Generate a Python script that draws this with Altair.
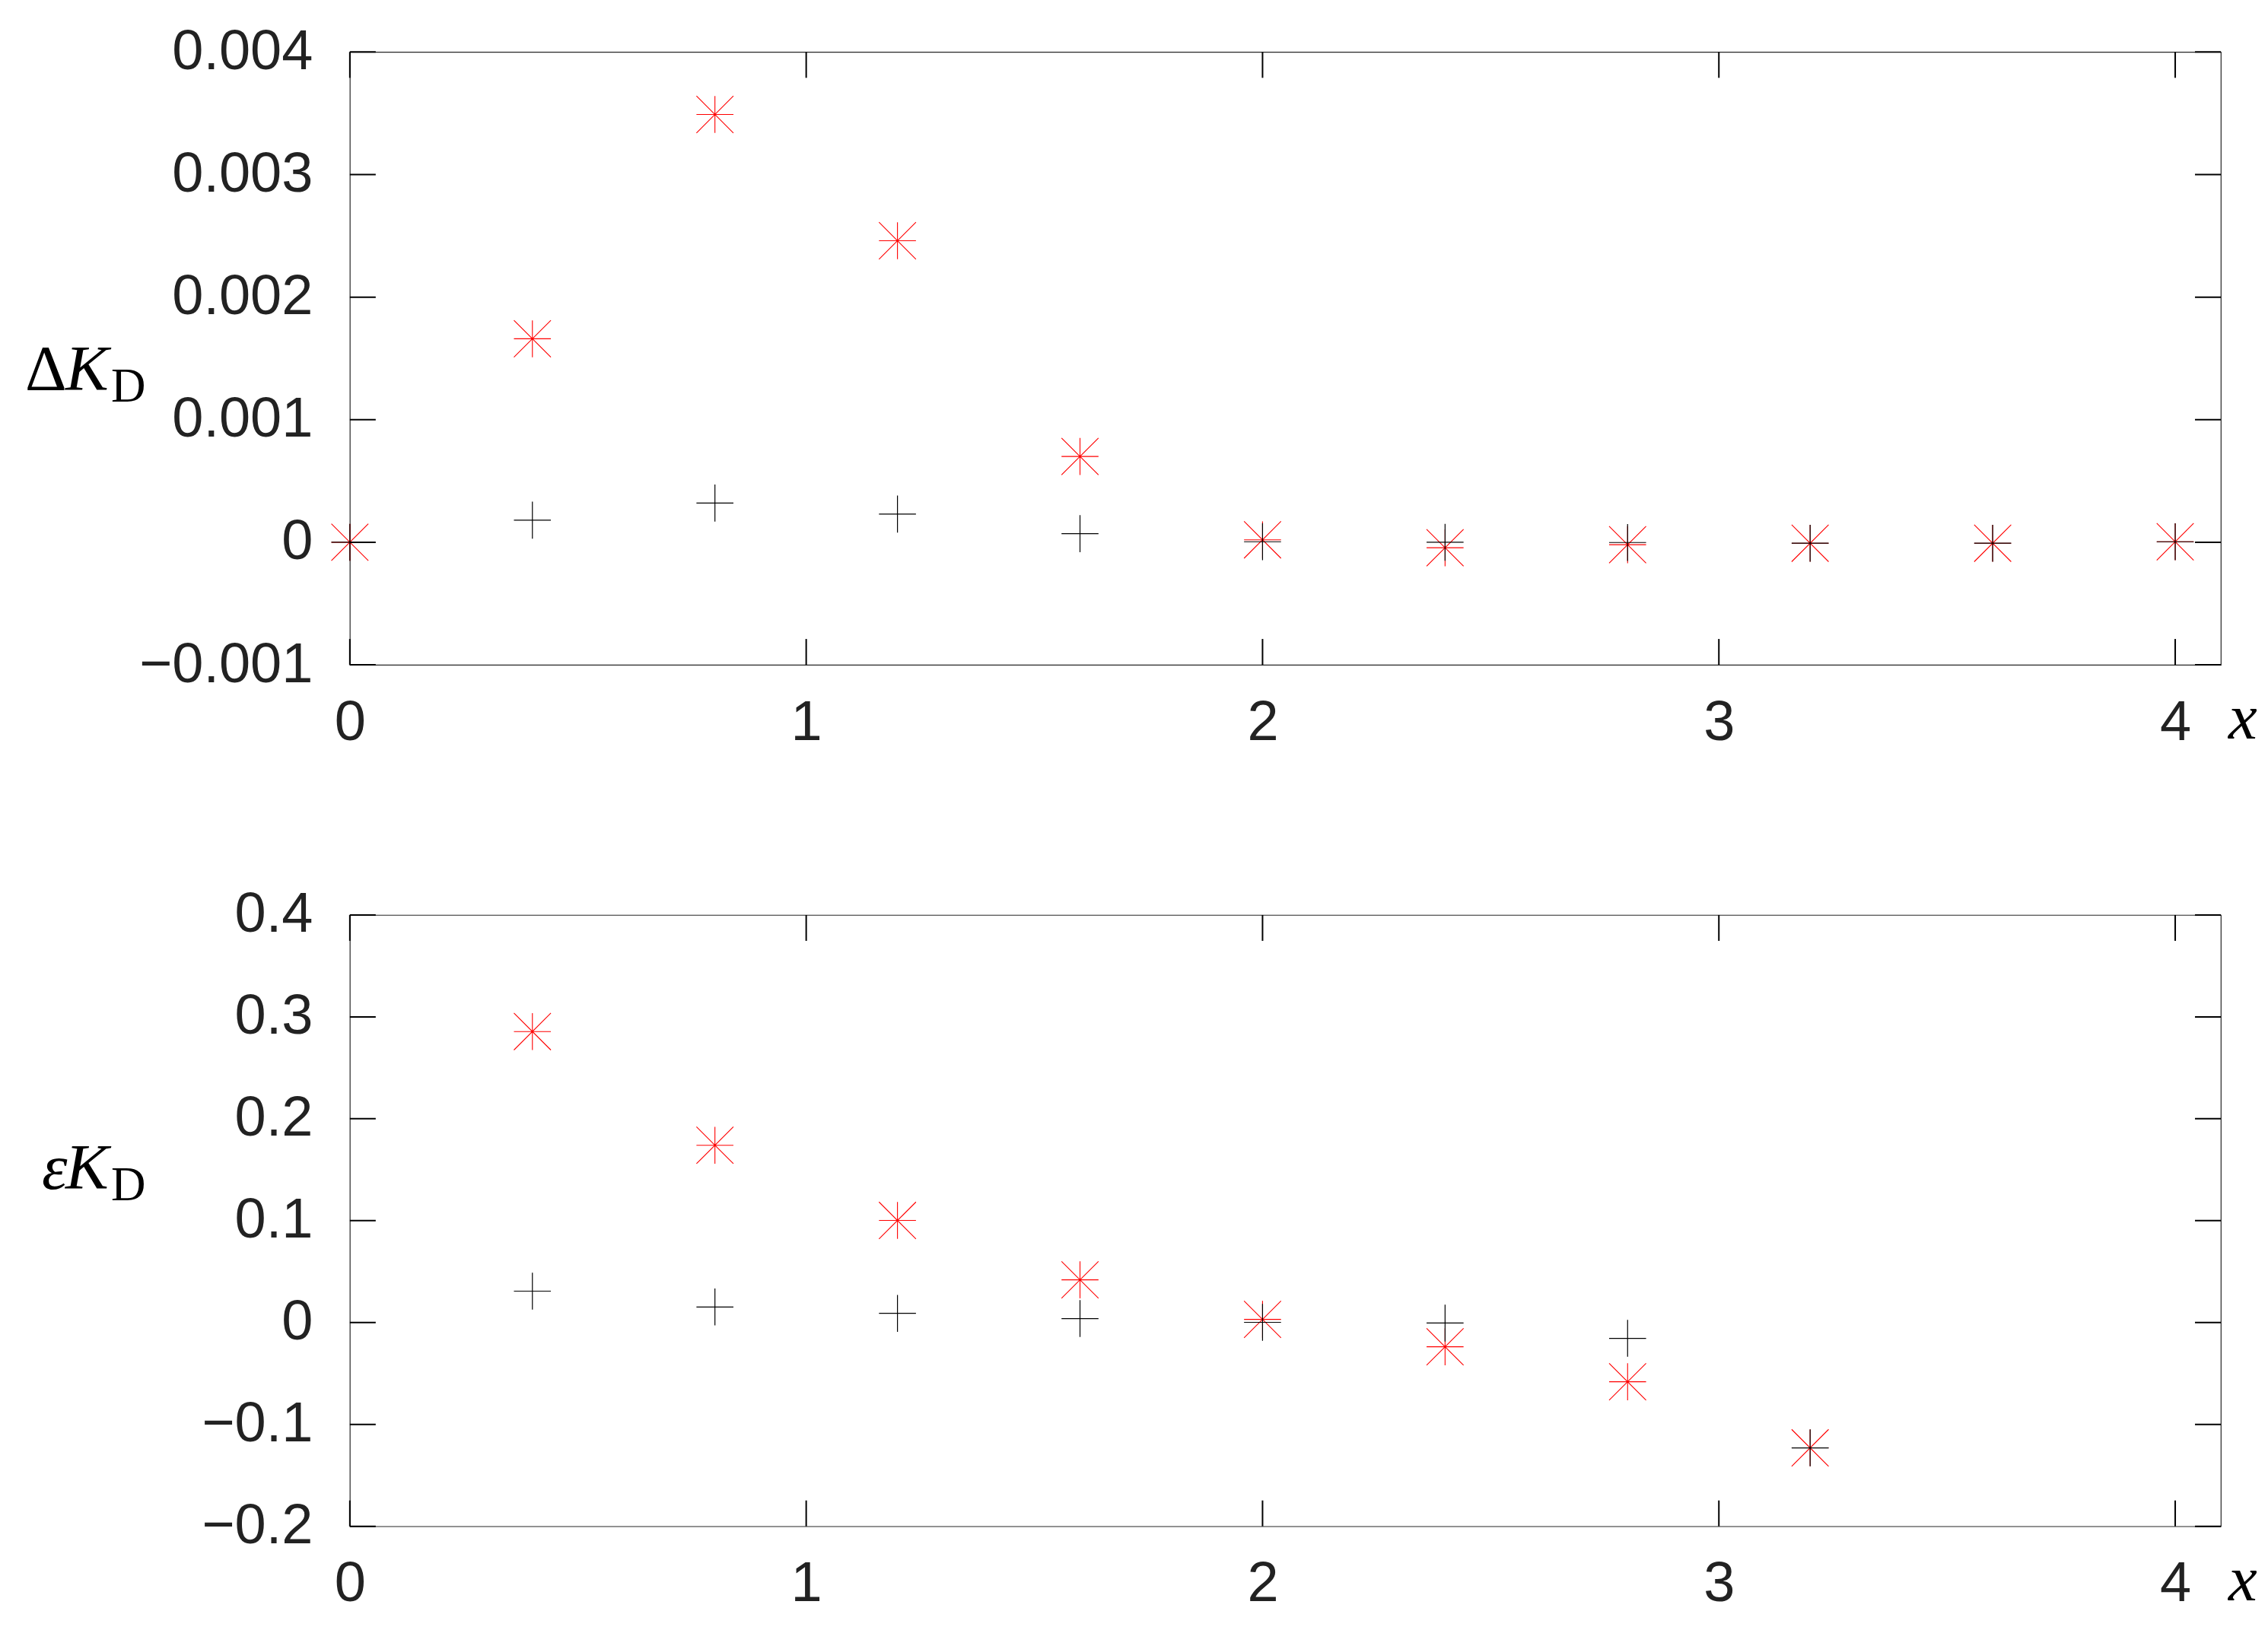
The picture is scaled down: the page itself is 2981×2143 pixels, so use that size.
import altair as alt
import pandas as pd

# ---------------- data ----------------
x_top = [0.0, 0.4, 0.8, 1.2, 1.6, 2.0, 2.4, 2.8, 3.2, 3.6, 4.0]
dK_red = [0.0, 0.00166, 0.00349, 0.00246, 0.00070, 0.00002, -0.000045, -0.00002, -0.000008, -0.000008, 0.000004]
dK_black = [0.0, 0.00018, 0.00032, 0.00023, 0.00007, 0.000004, 0.0, -0.000002, -0.000008, -0.000008, 0.000004]

x_bot = [0.4, 0.8, 1.2, 1.6, 2.0, 2.4, 2.8, 3.2]
eK_red = [0.2856, 0.174, 0.1002, 0.0419, 0.0031, -0.0238, -0.0581, -0.123]
eK_black = [0.0308, 0.0153, 0.0090, 0.0039, 0.0002, -0.0005, -0.0155, -0.123]

x_ticks = [0, 1, 2, 3, 4]
top_yticks = [-0.001, 0, 0.001, 0.002, 0.003, 0.004]
bot_yticks = [-0.2, -0.1, 0, 0.1, 0.2, 0.3, 0.4]

W = 2460
TICK = 34
PLUS = "M-1,0L1,0M0,-1L0,1"
STAR = "M-1,0L1,0M0,-1L0,1M-1,-1L1,1M-1,1L1,-1"
LABEL_FONT = "Liberation Sans"
SERIF = "Liberation Serif"
LABEL_COLOR = "#222222"


def panel(xs, red, black, yticks, ydomain, fmt, H, sym, lbl):
    df = pd.DataFrame({
        "x": xs + xs,
        "v": red + black,
        "s": ["red"] * len(xs) + ["black"] * len(xs),
    })
    xscale = alt.Scale(domain=[0, 4.1], nice=False, zero=False)
    yscale = alt.Scale(domain=ydomain, nice=False, zero=False)
    xaxis = alt.Axis(values=x_ticks, format="d", labelFontSize=74, labelFont=LABEL_FONT,
                     labelColor=LABEL_COLOR, labelPadding=40, ticks=False, domain=False,
                     grid=False, title=None, labelFlush=False, labelOverlap=False,
                     labelLimit=1000)
    yaxis = alt.Axis(values=yticks, labelExpr=f"datum.value == 0 ? '0' : format(datum.value, '{fmt}')",
                     labelFontSize=74, labelFont=LABEL_FONT, labelColor=LABEL_COLOR,
                     labelPadding=49, ticks=False, domain=False, grid=False, title=None,
                     labelFlush=False, labelOverlap=False, labelLimit=1000)

    base = alt.Chart(df).encode(
        x=alt.X("x:Q", scale=xscale, axis=xaxis),
        y=alt.Y("v:Q", scale=yscale, axis=yaxis),
    )
    red_pts = base.transform_filter(alt.datum.s == "red").mark_point(
        shape=STAR, size=2362, filled=False, stroke="#ff0000", strokeWidth=1.1, opacity=1)
    black_pts = base.transform_filter(alt.datum.s == "black").mark_point(
        shape=PLUS, size=2362, filled=False, stroke="#000000", strokeWidth=1.2, opacity=1)

    ydf = pd.DataFrame({"v": yticks})
    xdf = pd.DataFrame({"x": x_ticks})
    rule_style = dict(color="#000000", strokeWidth=2)
    left_t = alt.Chart(ydf).mark_rule(**rule_style).encode(
        y=alt.Y("v:Q", scale=yscale, axis=yaxis), x=alt.value(0), x2=alt.value(TICK))
    right_t = alt.Chart(ydf).mark_rule(**rule_style).encode(
        y=alt.Y("v:Q", scale=yscale, axis=yaxis), x=alt.value(W - TICK), x2=alt.value(W))
    bot_t = alt.Chart(xdf).mark_rule(**rule_style).encode(
        x=alt.X("x:Q", scale=xscale, axis=xaxis), y=alt.value(H), y2=alt.value(H - TICK))
    top_t = alt.Chart(xdf).mark_rule(**rule_style).encode(
        x=alt.X("x:Q", scale=xscale, axis=xaxis), y=alt.value(0), y2=alt.value(TICK))

    one = pd.DataFrame({"k": [0]})
    t1 = alt.Chart(one).mark_text(text=sym, font=SERIF, fontSize=85, align="left",
                                  baseline="alphabetic", color="#000000",
                                  fontStyle="italic" if sym == "ε" else "normal").encode(
        x=alt.value(lbl[0]), y=alt.value(lbl[3]))
    t2 = alt.Chart(one).mark_text(text="K", font=SERIF, fontSize=85, fontStyle="italic",
                                  align="left", baseline="alphabetic", color="#000000").encode(
        x=alt.value(lbl[1]), y=alt.value(lbl[3]))
    t3 = alt.Chart(one).mark_text(text="D", font=SERIF, fontSize=63, align="left",
                                  baseline="alphabetic", color="#000000").encode(
        x=alt.value(lbl[2]), y=alt.value(lbl[3] + 15))
    tx = alt.Chart(one).mark_text(text="x", font=SERIF, fontSize=85, fontStyle="italic",
                                  align="left", baseline="alphabetic", color="#000000").encode(
        x=alt.value(W + 10), y=alt.value(H + 97))

    return alt.layer(red_pts, black_pts, left_t, right_t, bot_t, top_t, t1, t2, t3, tx).properties(
        width=W, height=H)


top = panel(x_top, dK_red, dK_black, top_yticks, [-0.001, 0.004], ".3f", 806, "Δ",
            (-427, -374, -314, 445))
bottom = panel(x_bot, eK_red, eK_black, bot_yticks, [-0.2, 0.4], ".1f", 804, "ε",
               (-405, -374, -314, 360))

chart = alt.vconcat(top, bottom, spacing=329, bounds="flush").configure_view(
    stroke="#262626", strokeWidth=1.2
).properties(
    padding={"left": 24, "top": 22, "right": 5, "bottom": 5},
    background="white",
)

chart.save("out.html", embed_options={"renderer": "svg", "actions": False})
